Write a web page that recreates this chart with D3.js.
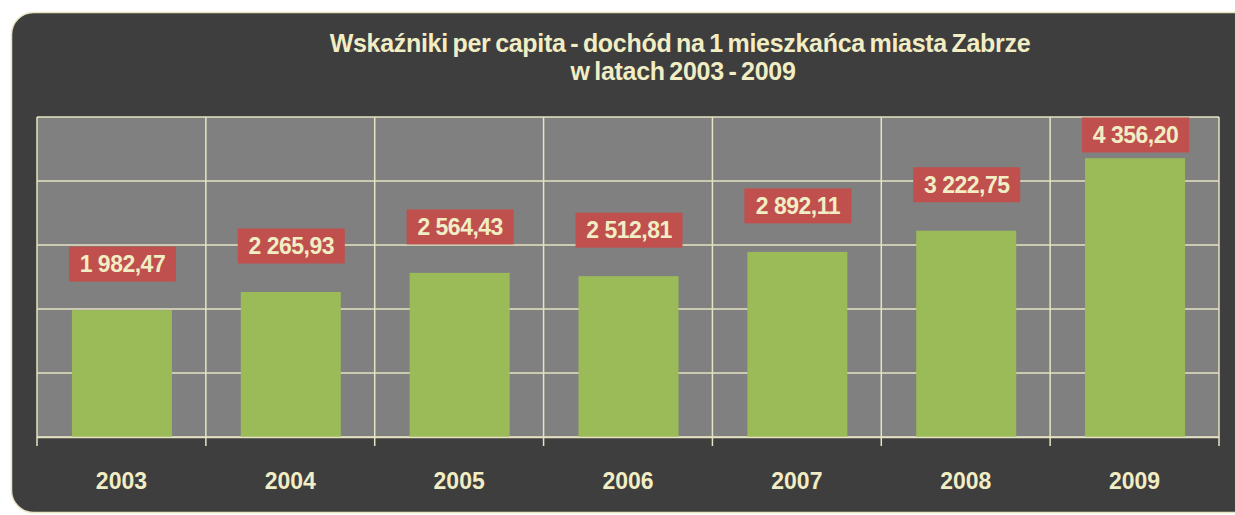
<!DOCTYPE html>
<html>
<head>
<meta charset="utf-8">
<script src="https://cdn.jsdelivr.net/npm/d3@7"></script>
<style>
  body { margin: 0; background: #ffffff; }
  svg { display: block; }
  text { font-family: "Liberation Sans", Arial, sans-serif; font-weight: bold; }
</style>
</head>
<body>
<svg id="chart"></svg>
<script>
// dane
const years = ["2003", "2004", "2005", "2006", "2007", "2008", "2009"];
const values = [1982.47, 2265.93, 2564.43, 2512.81, 2892.11, 3222.75, 4356.20];
const valueTicks = [0, 1000, 2000, 3000, 4000, 5000];
const titleLines = ["Wskaźniki per capita - dochód na 1 mieszkańca miasta Zabrze", "w latach 2003 - 2009"];

const width = 1235, height = 515;
const plot = { left: 37, right: 1219, top: 117, bottom: 437 };
const cream = "#f1edc4";

const svg = d3.select("#chart").attr("width", width).attr("height", height);

// tło panelu
svg.append("rect")
    .attr("x", 11.5).attr("y", 12.5)
    .attr("width", 1260).attr("height", 500)
    .attr("rx", 22)
    .attr("fill", "#3e3e3e")
    .attr("stroke", "#e9e5c2")
    .attr("stroke-width", 1.5);

// tytuł
svg.append("text")
    .attr("y", 52)
    .attr("text-anchor", "middle")
    .attr("fill", cream)
    .style("font-size", "25px")
    .style("word-spacing", "-2px")
    .style("letter-spacing", "-0.3px")
    .selectAll("tspan")
    .data(titleLines)
    .enter().append("tspan")
    .attr("x", (d, i) => i ? 683 : 680)
    .attr("dy", (d, i) => i ? 28 : 0)
    .text(d => d);

const x = d3.scaleBand().domain(years).range([plot.left, plot.right]).paddingInner(0).paddingOuter(0);
const y = d3.scaleLinear().domain([0, 5000]).range([plot.bottom, plot.top]);

// obszar wykresu
svg.append("rect")
    .attr("x", plot.left).attr("y", plot.top)
    .attr("width", plot.right - plot.left).attr("height", plot.bottom - plot.top)
    .attr("fill", "#808080");

// siatka pozioma
svg.append("g")
    .selectAll("line")
    .data(valueTicks)
    .enter().append("line")
    .attr("x1", plot.left).attr("x2", plot.right)
    .attr("y1", d => y(d)).attr("y2", d => y(d))
    .attr("stroke", "#e6e3c2").attr("stroke-width", 1.5);

// siatka pionowa + znaczniki osi
const bounds = years.map(d => x(d)).concat([plot.right]);
svg.append("g")
    .selectAll("line")
    .data(bounds)
    .enter().append("line")
    .attr("x1", d => d).attr("x2", d => d)
    .attr("y1", plot.top).attr("y2", plot.bottom + 9)
    .attr("stroke", "#e6e3c2").attr("stroke-width", 1.5);

// słupki
const barW = 100;
svg.append("g")
    .selectAll("rect")
    .data(values)
    .enter().append("rect")
    .attr("x", (d, i) => x(years[i]) + x.bandwidth() / 2 - barW / 2 + 0.5)
    .attr("y", d => y(d))
    .attr("width", barW)
    .attr("height", d => y(0) - y(d))
    .attr("fill", "#9bbb59");

// oś X
const xAxis = svg.append("g")
    .attr("transform", `translate(0,${plot.bottom})`)
    .call(d3.axisBottom(x).tickSize(0).tickPadding(36));
xAxis.select(".domain").attr("stroke", "#e6e3c2").attr("stroke-width", 1.5);
xAxis.selectAll("text")
    .attr("fill", cream)
    .style("font-size", "23px")
    .style("font-family", "'Liberation Sans', Arial, sans-serif")
    .style("font-weight", "bold");

// etykiety wartości
const fmt = d3.formatLocale({ decimal: ",", thousands: " ", grouping: [3], currency: ["", " zł"] }).format(",.2f");
const lblW = 107, lblH = 35;
const labels = svg.append("g")
    .selectAll("g")
    .data(values)
    .enter().append("g")
    .attr("transform", (d, i) => {
        const cx = x(years[i]) + x.bandwidth() / 2 + 1;
        const cy = Math.max(y(d) - 46, plot.top + lblH / 2 + 0.5);
        return `translate(${cx},${cy})`;
    });
labels.append("rect")
    .attr("x", -lblW / 2).attr("y", -lblH / 2)
    .attr("width", lblW).attr("height", lblH)
    .attr("fill", "#c0504d");
labels.append("text")
    .attr("text-anchor", "middle")
    .attr("dy", "0.36em")
    .attr("fill", cream)
    .style("font-size", "23px")
    .style("letter-spacing", "-0.5px")
    .text(d => fmt(d));
</script>
</body>
</html>
